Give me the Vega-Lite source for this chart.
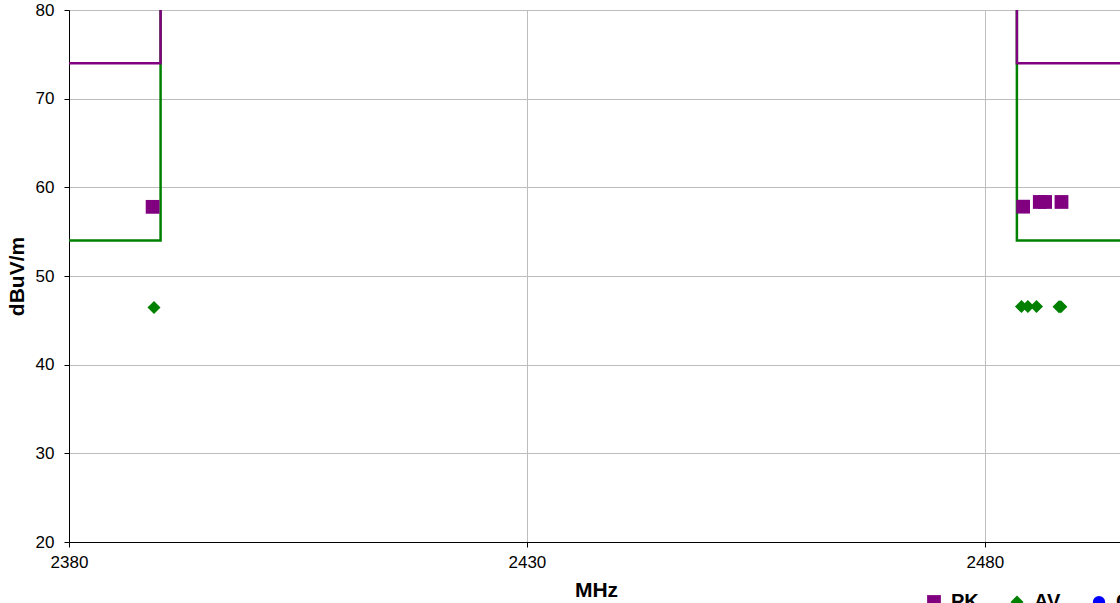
{
  "$schema": "https://vega.github.io/schema/vega-lite/v6.json",
  "autosize": "none",
  "padding": {"left": 69, "top": 10, "right": 0, "bottom": 61},
  "width": 1099,
  "height": 532,
  "background": "white",
  "config": {
    "font": "Liberation Sans",
    "view": {"stroke": null},
    "axis": {
      "labelFont": "Liberation Sans",
      "titleFont": "Liberation Sans",
      "labelFontSize": 17,
      "labelColor": "black",
      "labelFlush": false,
      "labelOverlap": false,
      "format": "d",
      "titleFontSize": 21,
      "titleFontWeight": "bold",
      "titleColor": "black",
      "domainColor": "black",
      "domainWidth": 1,
      "tickColor": "black",
      "tickSize": 5,
      "gridColor": "#bdbdbd",
      "gridWidth": 1
    }
  },
  "datasets": {
    "pkLimit": [
      {"freq": 2380, "level": 74, "seg": "L"},
      {"freq": 2390, "level": 74, "seg": "L"},
      {"freq": 2390, "level": 80, "seg": "L"},
      {"freq": 2483.5, "level": 80, "seg": "R"},
      {"freq": 2483.5, "level": 74, "seg": "R"},
      {"freq": 2500, "level": 74, "seg": "R"}
    ],
    "avLimit": [
      {"freq": 2380, "level": 54, "seg": "L"},
      {"freq": 2390, "level": 54, "seg": "L"},
      {"freq": 2390, "level": 80, "seg": "L"},
      {"freq": 2483.5, "level": 80, "seg": "R"},
      {"freq": 2483.5, "level": 54, "seg": "R"},
      {"freq": 2500, "level": 54, "seg": "R"}
    ],
    "points": [
      {"freq": 2389.13, "level": 57.8, "type": "PK"},
      {"freq": 2484.18, "level": 57.82, "type": "PK"},
      {"freq": 2486.0, "level": 58.35, "type": "PK"},
      {"freq": 2486.58, "level": 58.35, "type": "PK"},
      {"freq": 2488.37, "level": 58.35, "type": "PK"},
      {"freq": 2389.28, "level": 46.45, "type": "AV"},
      {"freq": 2484.0, "level": 46.55, "type": "AV"},
      {"freq": 2484.7, "level": 46.55, "type": "AV"},
      {"freq": 2485.64, "level": 46.55, "type": "AV"},
      {"freq": 2488.1, "level": 46.52, "type": "AV"},
      {"freq": 2488.3, "level": 46.52, "type": "AV"}
    ]
  },
  "layer": [
    {
      "data": {"name": "avLimit"},
      "mark": {"type": "line", "color": "#008000", "strokeWidth": 2.5, "clip": true},
      "encoding": {
        "x": {"field": "freq", "type": "quantitative", "scale": {"domain": [2380, 2500], "nice": false, "zero": false},
          "axis": {"title": "MHz", "values": [2380, 2430, 2480], "grid": true, "labelPadding": 7, "titlePadding": 9, "titleX": 527}},
        "y": {"field": "level", "type": "quantitative", "scale": {"domain": [20, 80], "nice": false, "zero": false},
          "axis": {"title": "dBuV/m", "values": [20, 30, 40, 50, 60, 70, 80], "grid": true, "labelPadding": 10, "titlePadding": 8}},
        "detail": {"field": "seg"}
      }
    },
    {
      "data": {"name": "pkLimit"},
      "mark": {"type": "line", "color": "#800080", "strokeWidth": 2.5, "clip": true},
      "encoding": {
        "x": {"field": "freq", "type": "quantitative"},
        "y": {"field": "level", "type": "quantitative"},
        "detail": {"field": "seg"}
      }
    },
    {
      "data": {"name": "points"},
      "mark": {"type": "point", "filled": true, "opacity": 1, "strokeWidth": 0},
      "encoding": {
        "x": {"field": "freq", "type": "quantitative"},
        "y": {"field": "level", "type": "quantitative"},
        "color": {"field": "type", "type": "nominal",
          "scale": {"domain": ["PK", "AV", "QP"], "range": ["#800080", "#008000", "#0000ff"]},
          "legend": {"title": null, "orient": "none", "direction": "horizontal", "legendX": 855, "legendY": 582,
            "labelFontSize": 20, "labelFontWeight": "bold", "labelColor": "black", "symbolSize": 150, "columnPadding": 28, "labelOffset": 7}},
        "shape": {"field": "type", "type": "nominal",
          "scale": {"domain": ["PK", "AV", "QP"], "range": ["square", "diamond", "circle"]}},
        "size": {"field": "type", "type": "nominal",
          "scale": {"domain": ["PK", "AV", "QP"], "range": [190, 150, 150]}, "legend": null}
      }
    }
  ]
}
